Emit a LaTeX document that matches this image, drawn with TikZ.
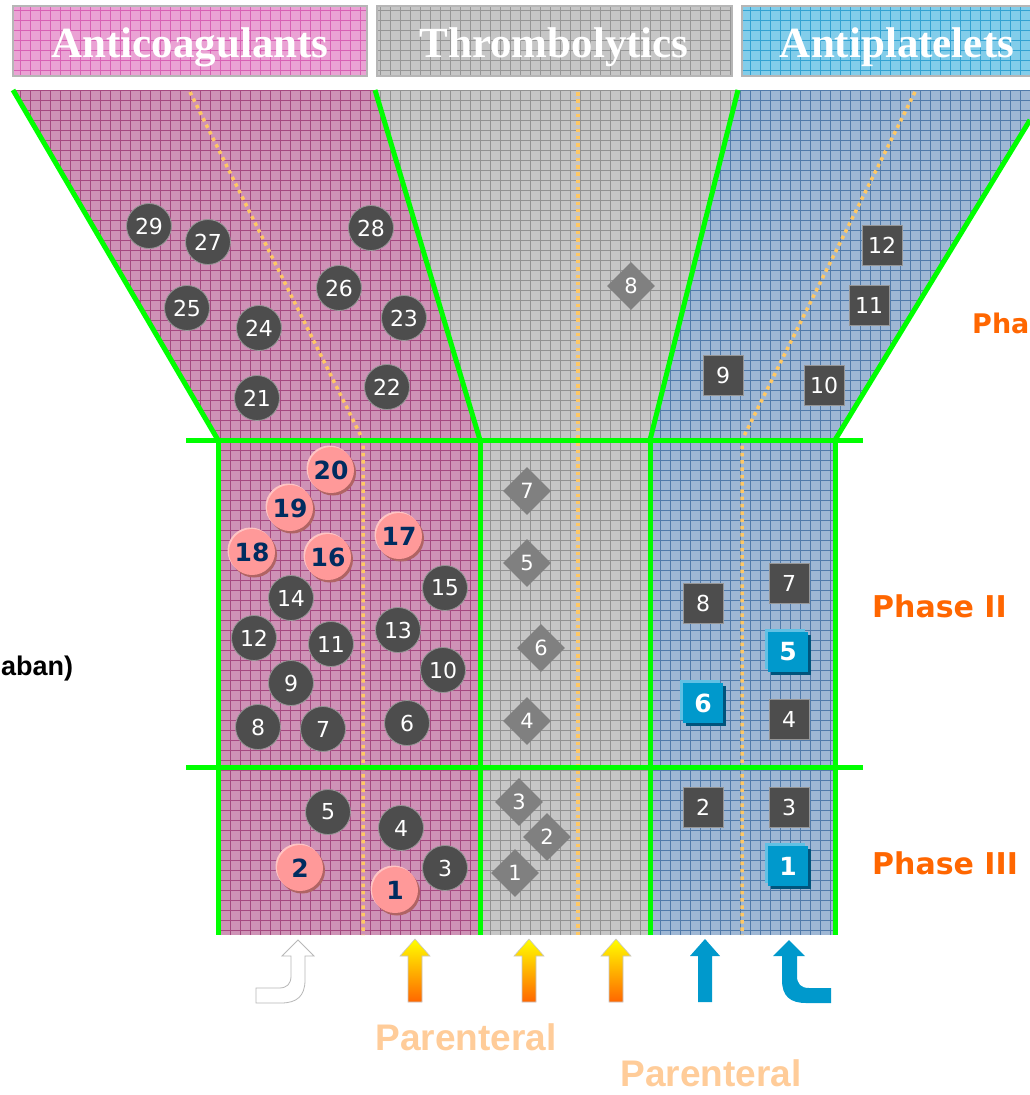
\documentclass[tikz,border=0pt]{standalone}
\usepackage{fontspec}
\setmainfont{DejaVu Sans}
\newfontfamily\hdrfont{Liberation Serif}
\newfontfamily\arialf{Liberation Sans}
\usetikzlibrary{shapes.geometric,shadows}
\definecolor{pinkF}{RGB}{206,146,182}
\definecolor{pinkL}{RGB}{165,72,128}
\definecolor{grayF}{RGB}{198,198,198}
\definecolor{grayL}{RGB}{146,146,146}
\definecolor{blueF}{RGB}{158,183,212}
\definecolor{blueL}{RGB}{80,122,170}
\definecolor{hpinkF}{RGB}{234,162,212}
\definecolor{hpinkL}{RGB}{216,96,180}
\definecolor{hblueF}{RGB}{130,205,234}
\definecolor{hblueL}{RGB}{50,162,210}
\definecolor{hgrayF}{RGB}{198,198,198}
\definecolor{hgrayL}{RGB}{150,150,150}
\definecolor{hborder}{RGB}{182,182,182}
\definecolor{gline}{RGB}{0,255,0}
\definecolor{dotc}{RGB}{255,200,100}
\definecolor{dkgray}{RGB}{77,77,77}
\definecolor{midgray}{RGB}{150,150,150}
\definecolor{diagray}{RGB}{128,128,128}
\definecolor{salmon}{RGB}{255,153,153}
\definecolor{pinkdark}{RGB}{176,100,100}
\definecolor{pinklight}{RGB}{255,196,196}
\definecolor{navy}{RGB}{0,44,96}
\definecolor{cyanb}{RGB}{0,153,204}
\definecolor{cyandark}{RGB}{0,84,124}
\definecolor{cyanlight}{RGB}{96,192,228}
\definecolor{phaseor}{RGB}{255,102,0}
\definecolor{parent}{RGB}{255,204,153}
\definecolor{arrowor}{RGB}{255,102,0}
\definecolor{arrowyl}{RGB}{255,255,0}
\begin{document}
\begin{tikzpicture}[x=1pt,y=-1pt,
  dcirc/.style={circle, minimum size=45pt, inner sep=0pt, fill=dkgray, draw=midgray, line width=0.8pt, text=white, font=\fontsize{22}{26}\selectfont},
  pcirc/.style={circle, minimum size=46pt, inner sep=0pt, fill=salmon, text=navy, font=\fontsize{25}{28}\selectfont\bfseries,
     general shadow={fill=pinkdark, shadow xshift=2pt, shadow yshift=-2.5pt},
     general shadow={fill=pinklight, shadow xshift=-1.5pt, shadow yshift=1.5pt}},
  dsq/.style={rectangle, minimum size=40pt, inner sep=0pt, fill=dkgray, draw=midgray, line width=1pt, text=white, font=\fontsize{22}{26}\selectfont},
  bsq/.style={rectangle, minimum size=40pt, inner sep=0pt, fill=cyanb, text=white, font=\fontsize{25}{28}\selectfont\bfseries,
     general shadow={fill=cyandark, shadow xshift=3pt, shadow yshift=-3pt},
     general shadow={fill=cyanlight, shadow xshift=-3pt, shadow yshift=3pt}},
  dia/.style={diamond, aspect=1, minimum size=48pt, inner sep=0pt, fill=diagray, text=white, font=\fontsize{21}{25}\selectfont},
  greenln/.style={draw=gline, line width=5pt},
  dotln/.style={draw=dotc, line width=3.5pt, dash pattern=on 3.5pt off 3.8pt},
  hdrtext/.style={text=white, font=\hdrfont\bfseries\fontsize{43}{48}\selectfont, anchor=base, inner sep=0pt},
  phasetxt/.style={text=phaseor, font=\fontsize{30}{36}\selectfont\bfseries, anchor=base west, inner sep=0pt},
  partxt/.style={text=parent, font=\arialf\bfseries\fontsize{37}{42}\selectfont, anchor=base, inner sep=0pt},
  yarrow/.style={top color=arrowyl, bottom color=arrowor, draw=black!22, line width=0.6pt},
  barrow/.style={fill=cyanb}
]
\useasboundingbox (0,0) rectangle (1030,1095);
\fill[white] (0,0) rectangle (1030,1095);

% ---------- headers ----------
\begin{scope}
  \clip (13,6) rectangle (367,76);
  \fill[hpinkF] (13,6) rectangle (367,76);
  \draw[hpinkL, line width=0.6pt, step=10pt] (13,6) grid (367,76);
\end{scope}
\draw[hborder, line width=2.5pt] (13,6) rectangle (367,76);
\begin{scope}
  \clip (377,6) rectangle (732,76);
  \fill[hgrayF] (377,6) rectangle (732,76);
  \draw[hgrayL, line width=0.6pt, step=10pt] (377,6) grid (732,76);
\end{scope}
\draw[hborder, line width=2.5pt] (377,6) rectangle (732,76);
\begin{scope}
  \clip (742,6) rectangle (1052,76);
  \fill[hblueF] (742,6) rectangle (1052,76);
  \draw[hblueL, line width=0.6pt, step=10pt] (742,6) grid (1052,76);
\end{scope}
\draw[hborder, line width=2.5pt] (742,6) rectangle (1052,76);
\node[hdrtext] (hA) at (190,57) {Anticoagulants};
\node[hdrtext] (hT) at (554,57) {Thrombolytics};
\node[hdrtext] (hP) at (897,57) {Antiplatelets};

% ---------- funnel regions ----------
\begin{scope}
  \clip (13,90) -- (375,90) -- (480,440) -- (480,935) -- (218,935) -- (218,440) -- cycle;
  \fill[pinkF] (0,90) rectangle (500,935);
  \draw[pinkL, line width=0.5pt, step=10pt] (0,90) grid (500,935);
\end{scope}
\begin{scope}
  \clip (375,90) -- (738,90) -- (650,440) -- (650,935) -- (480,935) -- (480,440) -- cycle;
  \fill[grayF] (370,90) rectangle (740,935);
  \draw[grayL, line width=0.5pt, step=10pt] (370,90) grid (740,935);
\end{scope}
\begin{scope}
  \clip (738,90) -- (1030,90) -- (1030,120) -- (835,440) -- (835,935) -- (650,935) -- (650,440) -- cycle;
  \fill[blueF] (640,90) rectangle (1030,935);
  \draw[blueL, line width=0.5pt, step=10pt] (640,90) grid (1030,935);
\end{scope}

% dotted dividers
\draw[dotln] (190,92) -- (363,440) -- (363,935);
\draw[dotln] (578,92) -- (578,935);
\draw[dotln] (915,92) -- (742,440) -- (742,935);

% green borders
\draw[greenln] (13,90) -- (218,440);
\draw[greenln] (375,90) -- (480,440);
\draw[greenln] (738,90) -- (650,440);
\draw[greenln] (1030,120) -- (835,440);
\draw[greenln] (186,440) -- (863,440);
\draw[greenln] (186,767) -- (863,767);
\draw[greenln] (218,440) -- (218,935);
\draw[greenln] (480,440) -- (480,935);
\draw[greenln] (650,440) -- (650,935);
\draw[greenln] (835,440) -- (835,935);

% ---------- anticoagulants ----------
\node[dcirc] (a29) at (149,226) {29};
\node[dcirc] (a27) at (208,242) {27};
\node[dcirc] (a28) at (371,228) {28};
\node[dcirc] (a26) at (339,288) {26};
\node[dcirc] (a25) at (187,308) {25};
\node[dcirc] (a24) at (259,328) {24};
\node[dcirc] (a23) at (404,318) {23};
\node[dcirc] (a22) at (387,387) {22};
\node[dcirc] (a21) at (257,398) {21};

\node[pcirc] (a20) at (331,470) {20};
\node[pcirc] (a19) at (290,508) {19};
\node[pcirc] (a18) at (252,552) {18};
\node[pcirc] (a16) at (328,557) {16};
\node[pcirc] (a17) at (399,536) {17};
\node[dcirc] (a14) at (291,598) {14};
\node[dcirc] (a15) at (445,588) {15};
\node[dcirc] (a12) at (254,638) {12};
\node[dcirc] (a11) at (331,644) {11};
\node[dcirc] (a13) at (398,630) {13};
\node[dcirc] (a10) at (443,670) {10};
\node[dcirc] (a9) at (291,683) {9};
\node[dcirc] (a8) at (258,727) {8};
\node[dcirc] (a7) at (323,729) {7};
\node[dcirc] (a6) at (407,723) {6};

\node[dcirc] (a5) at (328,812) {5};
\node[dcirc] (a4) at (401,828) {4};
\node[dcirc] (a3) at (445,868) {3};
\node[pcirc] (a2) at (300,868) {2};
\node[pcirc] (a1) at (395,890) {1};

% ---------- thrombolytics ----------
\node[dia] (t8) at (631,286) {8};
\node[dia] (t7) at (527,491) {7};
\node[dia] (t5) at (527,563) {5};
\node[dia] (t6) at (541,648) {6};
\node[dia] (t4) at (527,721) {4};
\node[dia] (t3) at (519,802) {3};
\node[dia] (t2) at (547,837) {2};
\node[dia] (t1) at (515,873) {1};

% ---------- antiplatelets ----------
\node[dsq] (p12) at (882,245) {12};
\node[dsq] (p11) at (869,305) {11};
\node[dsq] (p9) at (723,375) {9};
\node[dsq] (p10) at (824,385) {10};
\node[dsq] (p8) at (703,603) {8};
\node[dsq] (p7) at (789,583) {7};
\node[bsq] (p5) at (788,652) {5};
\node[bsq] (p6) at (703,703) {6};
\node[dsq] (p4) at (789,719) {4};
\node[dsq] (p2) at (703,807) {2};
\node[dsq] (p3) at (789,807) {3};
\node[bsq] (p1) at (788,866) {1};

% ---------- phase labels ----------
\node[phasetxt, font=\fontsize{27}{32}\selectfont\bfseries] (ph1) at (972,333) {Pha};
\node[phasetxt] (ph2) at (872,617) {Phase II};
\node[phasetxt] (ph3) at (872,874) {Phase III};
\node[anchor=base west, inner sep=0pt, font=\arialf\bfseries\fontsize{27}{32}\selectfont, text=black] (lft) at (1,675) {aban)};

% ---------- route arrows ----------
\path[fill=white, draw=black!28, line width=0.8pt]
  (298,940) -- (314,956) -- (305,956) -- (305,980)
  .. controls (305,996) and (297,1003) .. (281,1003) -- (256,1003) -- (256,988) -- (279,988)
  .. controls (287,988) and (291,984) .. (291,976) -- (291,956) -- (282,956) -- cycle;
\foreach \cx in {415,529,616}{
  \path[yarrow] (\cx,939) -- (\cx+15,956) -- (\cx+7,956) -- (\cx+7,1002) -- (\cx-7,1002) -- (\cx-7,956) -- (\cx-15,956) -- cycle;
}
\path[barrow] (705,939) -- (720,956) -- (712,956) -- (712,1002) -- (698,1002) -- (698,956) -- (690,956) -- cycle;
\path[barrow]
  (789,940) -- (805,956) -- (797,956) -- (797,976)
  .. controls (797,984) and (801,988) .. (809,988) -- (831,988) -- (831,1003) -- (806,1003)
  .. controls (790,1003) and (782,996) .. (782,980) -- (782,956) -- (773,956) -- cycle;

\node[partxt] (par1) at (466,1050) {Parenteral};
\node[partxt] (par2) at (711,1086) {Parenteral};
\end{tikzpicture}
\end{document}
